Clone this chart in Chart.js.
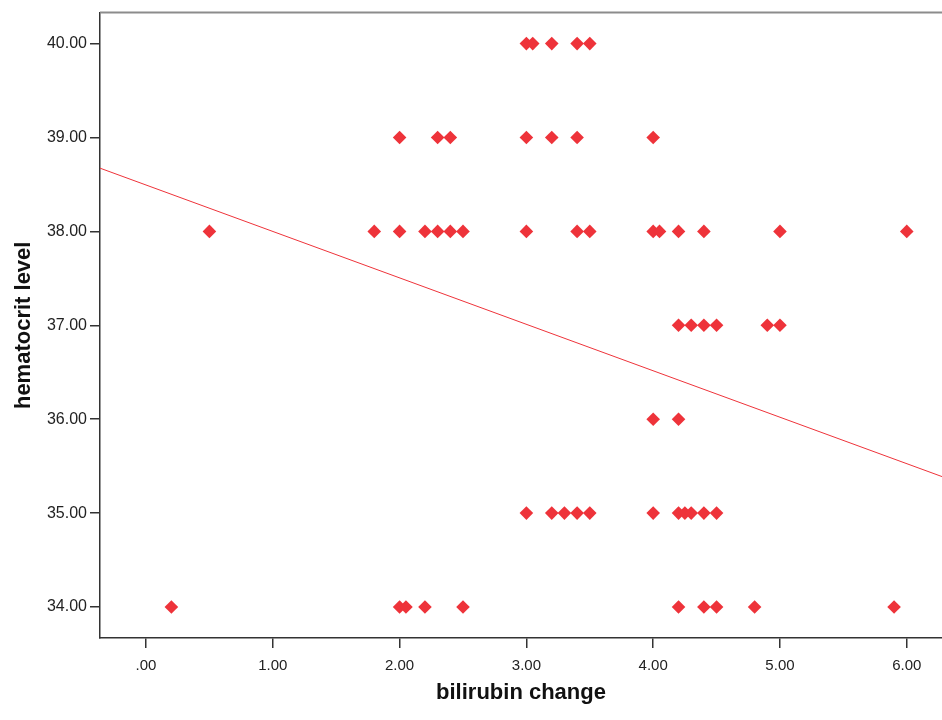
<!DOCTYPE html>
<html>
<head>
<meta charset="utf-8">
<script src="https://cdn.jsdelivr.net/npm/chart.js@4"></script>
<style>
  html, body { margin: 0; padding: 0; background: #fff; overflow: hidden; }
  canvas { display: block; }
</style>
</head>
<body>
<canvas id="scatter" width="942" height="720"></canvas>
<script>
// values
const bilirubinChange = [
  3.0, 3.05, 3.2, 3.4, 3.5,
  2.0, 2.3, 2.4, 3.0, 3.2, 3.4, 4.0,
  0.5, 1.8, 2.0, 2.2, 2.3, 2.4, 2.5, 3.0, 3.4, 3.5, 4.0, 4.05, 4.2, 4.4, 5.0, 6.0,
  4.2, 4.3, 4.4, 4.5, 4.9, 5.0,
  4.0, 4.2,
  3.0, 3.2, 3.3, 3.4, 3.5, 4.0, 4.2, 4.25, 4.3, 4.4, 4.5,
  0.2, 2.0, 2.05, 2.2, 2.5, 4.2, 4.4, 4.5, 4.8, 5.9
];
const hematocritLevel = [
  40, 40, 40, 40, 40,
  39, 39, 39, 39, 39, 39, 39,
  38, 38, 38, 38, 38, 38, 38, 38, 38, 38, 38, 38, 38, 38, 38, 38,
  37, 37, 37, 37, 37, 37,
  36, 36,
  35, 35, 35, 35, 35, 35, 35, 35, 35, 35, 35,
  34, 34, 34, 34, 34, 34, 34, 34, 34, 34
];
const xTicks = [0, 1, 2, 3, 4, 5, 6];
const yTicks = [34, 35, 36, 37, 38, 39, 40];
const xRange = [-0.363, 6.278];
const yRange = [33.67, 40.33];
// fit line as drawn in the picture
const fitIntercept = 38.494;
const fitSlope = -0.4946;

const red = '#ee333a';

const points = bilirubinChange.map((x, i) => ({ x: x, y: hematocritLevel[i] }));
const fitLine = xRange.map(x => ({ x: x, y: fitIntercept + fitSlope * x }));

const topBorder = {
  id: 'topBorder',
  afterDraw(chart) {
    const { ctx, chartArea } = chart;
    ctx.save();
    ctx.strokeStyle = '#8c8c8c';
    ctx.lineWidth = 2;
    ctx.beginPath();
    ctx.moveTo(chartArea.left, chartArea.top);
    ctx.lineTo(chartArea.right, chartArea.top);
    ctx.stroke();
    ctx.restore();
  }
};

const ctx = document.getElementById('scatter').getContext('2d');
new Chart(ctx, {
  type: 'scatter',
  data: {
    datasets: [
      {
        type: 'line',
        data: fitLine,
        borderColor: red,
        borderWidth: 1,
        pointRadius: 0,
        fill: false,
        order: 2
      },
      {
        data: points,
        pointStyle: 'rectRot',
        pointRadius: 6.8,
        pointHoverRadius: 6.8,
        backgroundColor: red,
        borderColor: red,
        borderWidth: 0,
        order: 1
      }
    ]
  },
  options: {
    responsive: false,
    animation: false,
    events: [],
    layout: { autoPadding: false, padding: { top: 12, right: 0, left: 0, bottom: 0 } },
    plugins: { legend: { display: false }, tooltip: { enabled: false } },
    scales: {
      x: {
        type: 'linear',
        min: xRange[0],
        max: xRange[1],
        afterBuildTicks: s => { s.ticks = xTicks.map(v => ({ value: v })); },
        afterFit: s => { s.height = 82; s.paddingLeft = 0; s.paddingRight = 0; },
        grid: { drawOnChartArea: false, drawTicks: true, tickLength: 10, color: '#333', lineWidth: 1.5 },
        border: { display: true, color: '#333', width: 1.5 },
        ticks: {
          color: '#222',
          padding: 9,
          maxRotation: 0,
          font: { family: 'Liberation Sans', size: 15 },
          callback: v => v.toFixed(2).replace(/^0/, '')
        },
        title: {
          display: true,
          text: 'bilirubin change',
          color: '#111',
          font: { family: 'Liberation Sans', size: 22, weight: 'bold' },
          padding: { top: 4, bottom: 14 }
        }
      },
      y: {
        type: 'linear',
        min: yRange[0],
        max: yRange[1],
        afterBuildTicks: s => { s.ticks = yTicks.map(v => ({ value: v })); },
        afterFit: s => { s.width = 100; },
        grid: { drawOnChartArea: false, drawTicks: true, tickLength: 10, color: '#333', lineWidth: 1.5 },
        border: { display: true, color: '#333', width: 1.5 },
        ticks: {
          color: '#222',
          padding: 3,
          font: { family: 'Liberation Sans', size: 16 },
          callback: v => v.toFixed(2)
        },
        title: {
          display: true,
          text: 'hematocrit level',
          color: '#111',
          font: { family: 'Liberation Sans', size: 22, weight: 'bold' },
          padding: { top: 11, bottom: 4 }
        }
      }
    }
  },
  plugins: [topBorder]
});
</script>
</body>
</html>
